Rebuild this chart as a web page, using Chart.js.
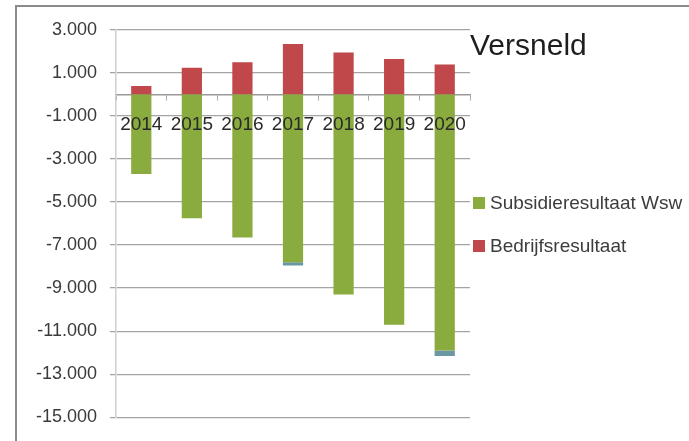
<!DOCTYPE html>
<html>
<head>
<meta charset="utf-8">
<script src="https://cdn.jsdelivr.net/npm/chart.js@4/dist/chart.umd.min.js"></script>
<style>
  html, body { margin: 0; padding: 0; background: #fff; }
  #wrap { position: relative; width: 689px; height: 441px; overflow: hidden; background: #fff; }
  #c { position: absolute; left: 0; top: 0; }
  #frame { position: absolute; left: 15px; top: 5px; width: 700px; height: 460px;
           border-top: 2px solid #8c8c8c; border-left: 2px solid #8c8c8c; pointer-events: none; }
  #title { position: absolute; left: 470px; top: 30px; font: 30px/30px "Liberation Sans", Arial, sans-serif; color: #1e1e1e; white-space: nowrap; }
  .leg { position: absolute; left: 473px; height: 12px; white-space: nowrap; font: 19px/19px "Liberation Sans", Arial, sans-serif; color: #3c3c3c; }
  .leg i { position: absolute; left: 0; top: 0; width: 12px; height: 12px; }
  .leg span { position: absolute; left: 17px; top: -4px; }
</style>
</head>
<body>
<div id="wrap">
  <canvas id="c" width="689" height="441"></canvas>
  <div id="frame"></div>
  <div id="title"></div>
  <div id="legend"></div>
</div>
<script>
const titleText = 'Versneld';
const categories = ['2014', '2015', '2016', '2017', '2018', '2019', '2020'];
const seriesNames = ['Subsidieresultaat Wsw', 'Bedrijfsresultaat'];
const subsidieresultaat = [-3700, -5750, -6650, -7800, -9300, -10700, -11900];
const bedrijfsresultaat = [400, 1250, 1500, 2350, 1950, 1650, 1400];
const restant = [0, 0, 0, -150, 0, 0, -250];
const yTicks = [3000, 1000, -1000, -3000, -5000, -7000, -9000, -11000, -13000, -15000];

const GREEN = '#8aab3d';
const RED = '#c0474a';
const TEAL = '#6b97a3';

function fmt(v) {
  const neg = v < 0;
  let s = String(Math.abs(Math.round(v)));
  s = s.replace(/\B(?=(\d{3})+(?!\d))/g, '.');
  return (neg ? '-' : '') + s;
}

document.getElementById('title').textContent = titleText;
const legendColors = [GREEN, RED];
const legendTops = [197, 240];
const legendEl = document.getElementById('legend');
seriesNames.forEach((n, i) => {
  const d = document.createElement('div');
  d.className = 'leg';
  d.style.top = legendTops[i] + 'px';
  const sq = document.createElement('i');
  sq.style.background = legendColors[i];
  const sp = document.createElement('span');
  sp.textContent = n;
  d.appendChild(sq); d.appendChild(sp);
  legendEl.appendChild(d);
});

Chart.defaults.font.family = '"Liberation Sans", Arial, sans-serif';

new Chart(document.getElementById('c'), {
  type: 'bar',
  data: {
    labels: categories,
    datasets: [
      { label: seriesNames[0], data: subsidieresultaat, backgroundColor: GREEN, borderWidth: 0 },
      { label: seriesNames[1], data: bedrijfsresultaat, backgroundColor: RED, borderWidth: 0 },
      { label: '', data: restant, backgroundColor: TEAL, borderWidth: 0 }
    ]
  },
  options: {
    responsive: false,
    animation: false,
    devicePixelRatio: 1,
    layout: { padding: { left: 0, right: 219, top: 30, bottom: 22 } },
    plugins: { legend: { display: false }, title: { display: false }, tooltip: { enabled: false } },
    datasets: { bar: { categoryPercentage: 1.0, barPercentage: 0.4 } },
    scales: {
      x: {
        stacked: true,
        position: { y: 0 },
        offset: true,
        grid: { offset: true, drawOnChartArea: false, drawTicks: true, tickLength: 5, color: '#a8a8a8' },
        border: { display: true, color: '#9a9a9a', width: 1.5 },
        ticks: { z: 1, color: '#2a2a2a', font: { size: 19 }, padding: 14, maxRotation: 0, autoSkip: false }
      },
      y: {
        stacked: true,
        min: -15000,
        max: 3000,
        afterBuildTicks: (scale) => { scale.ticks = yTicks.map(v => ({ value: v })); },
        afterFit: (scale) => { scale.width = 116; },
        grid: { color: '#a4a4a4', lineWidth: 1.3, tickLength: 6, drawTicks: true },
        border: { display: true, color: '#cfcfcf', width: 1.5 },
        ticks: { color: '#3a3a3a', font: { size: 18 }, padding: 13, callback: (v) => fmt(v) }
      }
    }
  }
});
</script>
</body>
</html>
